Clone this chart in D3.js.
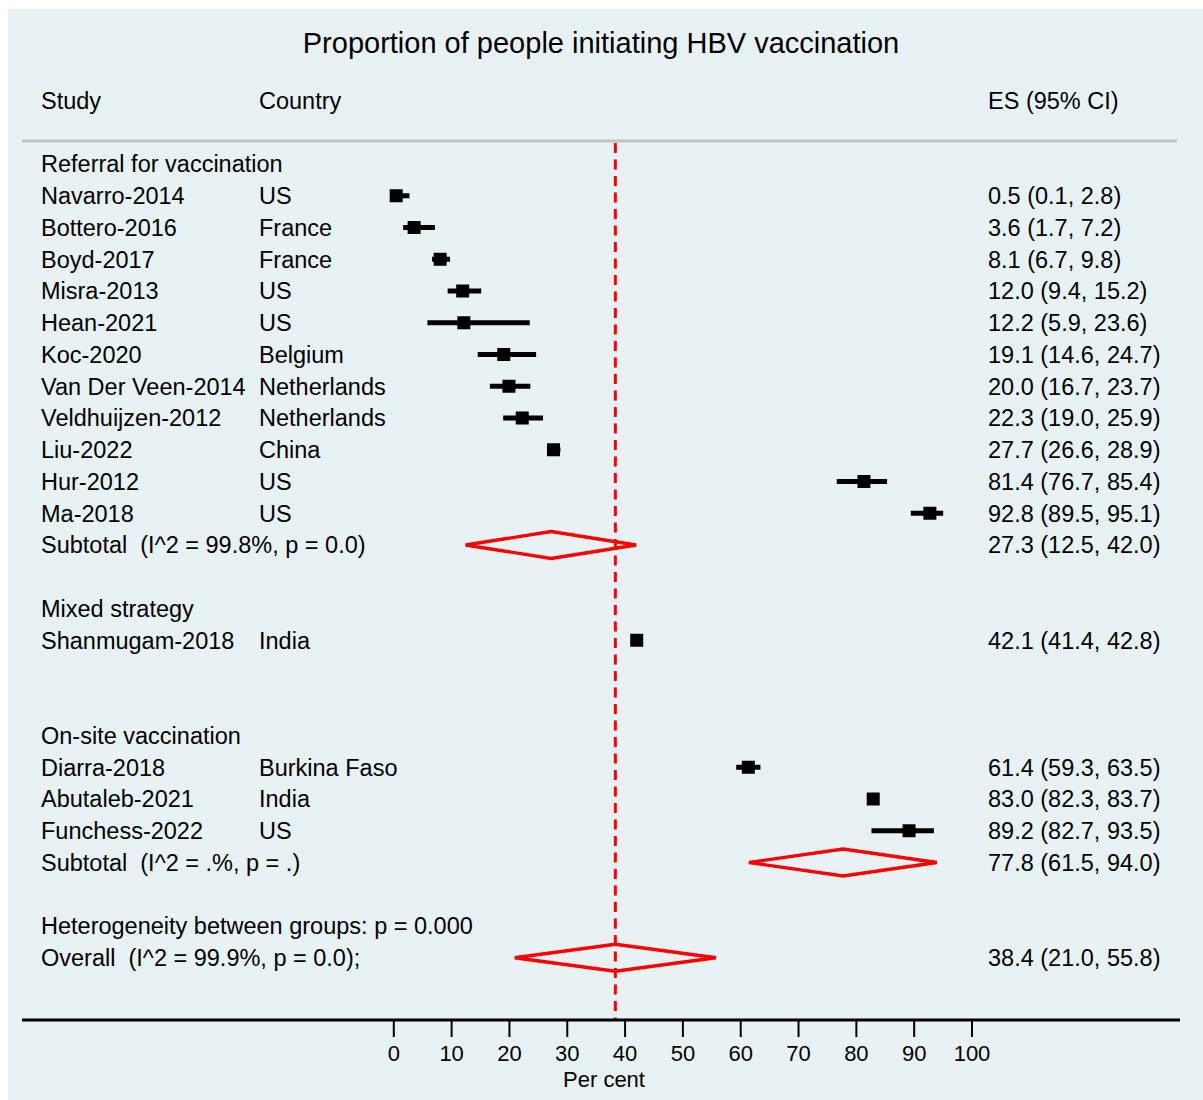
<!DOCTYPE html>
<html>
<head>
<meta charset="utf-8">
<script src="https://cdn.jsdelivr.net/npm/d3@7"></script>
<style>
  html, body { margin: 0; padding: 0; background: #ffffff; }
  svg text { font-family: "Liberation Sans", Arial, sans-serif; fill: #000; white-space: pre; }
</style>
</head>
<body>
<svg id="chart" width="1203" height="1100"></svg>
<script>
// ---- data ----
const chartTitle = "Proportion of people initiating HBV vaccination";
const groupNames = ["Referral for vaccination", "Mixed strategy", "On-site vaccination"];

const studies = [
  "Navarro-2014", "Bottero-2016", "Boyd-2017", "Misra-2013", "Hean-2021",
  "Koc-2020", "Van Der Veen-2014", "Veldhuijzen-2012", "Liu-2022", "Hur-2012", "Ma-2018",
  "Shanmugam-2018",
  "Diarra-2018", "Abutaleb-2021", "Funchess-2022"
];
const countries = [
  "US", "France", "France", "US", "US",
  "Belgium", "Netherlands", "Netherlands", "China", "US", "US",
  "India",
  "Burkina Faso", "India", "US"
];
const studyGroup = [0,0,0,0,0,0,0,0,0,0,0, 1, 2,2,2];
const es  = [0.5, 3.6, 8.1, 12.0, 12.2, 19.1, 20.0, 22.3, 27.7, 81.4, 92.8, 42.1, 61.4, 83.0, 89.2];
const lo  = [0.1, 1.7, 6.7,  9.4,  5.9, 14.6, 16.7, 19.0, 26.6, 76.7, 89.5, 41.4, 59.3, 82.3, 82.7];
const hi  = [2.8, 7.2, 9.8, 15.2, 23.6, 24.7, 23.7, 25.9, 28.9, 85.4, 95.1, 42.8, 63.5, 83.7, 93.5];

// pooled estimates per group (null = no subtotal shown)
const subtotalLabels = ["Subtotal  (I^2 = 99.8%, p = 0.0)", null, "Subtotal  (I^2 = .%, p = .)"];
const subtotalES = [27.3, null, 77.8];
const subtotalLo = [12.5, null, 61.5];
const subtotalHi = [42.0, null, 94.0];

const heterogeneityLabel = "Heterogeneity between groups: p = 0.000";
const overallLabel = "Overall  (I^2 = 99.9%, p = 0.0);";
const overallES = 38.4, overallLo = 21.0, overallHi = 55.8;

const xTicks = [0, 10, 20, 30, 40, 50, 60, 70, 80, 90, 100];
const xAxisLabel = "Per cent";

// ---- layout ----
const svg = d3.select("#chart");
const fmt = d3.format(".1f");
const esText = (e, l, h) => `${fmt(e)} (${fmt(l)}, ${fmt(h)})`;

// build the row list: group header, studies, subtotal row, spacer
const rows = [];
groupNames.forEach((g, gi) => {
  rows.push({ type: "group", label: g });
  studies.forEach((s, i) => {
    if (studyGroup[i] === gi) rows.push({ type: "study", i });
  });
  rows.push({ type: "subtotal", gi });
  rows.push({ type: "blank" });
});
rows.push({ type: "het" });
rows.push({ type: "overall" });

const x = d3.scaleLinear().domain([0, 100]).range([393.3, 971.5]);
const y = d3.scaleLinear().domain([0, rows.length - 1]).range([164, 957.75]);

const colStudy = 41, colCountry = 259, colES = 988;
const fs = 23.5;
const baseOff = fs * 0.36;

// panel background
svg.append("rect").attr("x", 8).attr("y", 9).attr("width", 1195).attr("height", 1091)
  .attr("fill", "#e8f1f4");

// title and column headings
svg.append("text").attr("x", 601).attr("y", 53).attr("text-anchor", "middle")
  .style("font-size", "29px").text(chartTitle);
const headY = 101 + baseOff;
svg.append("text").attr("x", colStudy).attr("y", headY).style("font-size", fs + "px").text("Study");
svg.append("text").attr("x", colCountry).attr("y", headY).style("font-size", fs + "px").text("Country");
svg.append("text").attr("x", colES).attr("y", headY).style("font-size", fs + "px").text("ES (95% CI)");

svg.append("line").attr("x1", 22).attr("x2", 1177).attr("y1", 141).attr("y2", 141)
  .attr("stroke", "#c3c3c3").attr("stroke-width", 3);

const gText = svg.append("g").style("font-size", fs + "px");
const gMarks = svg.append("g");

const diamond = (e, l, h, cy) => {
  const hh = 13.5;
  gMarks.append("path")
    .attr("d", `M${x(l)},${cy} L${x(e)},${cy - hh} L${x(h)},${cy} L${x(e)},${cy + hh} Z`)
    .attr("fill", "none").attr("stroke", "#ff0000").attr("stroke-width", 3.3)
    .attr("stroke-linejoin", "miter");
};

rows.forEach((r, ri) => {
  const cy = y(ri);
  const ty = cy + baseOff;
  if (r.type === "group") {
    gText.append("text").attr("x", colStudy).attr("y", ty).text(r.label);
  } else if (r.type === "study") {
    const i = r.i;
    gText.append("text").attr("x", colStudy).attr("y", ty).text(studies[i]);
    gText.append("text").attr("x", colCountry).attr("y", ty).text(countries[i]);
    gText.append("text").attr("x", colES).attr("y", ty).text(esText(es[i], lo[i], hi[i]));
    gMarks.append("line").attr("x1", x(lo[i])).attr("x2", x(hi[i]))
      .attr("y1", cy).attr("y2", cy).attr("stroke", "#000").attr("stroke-width", 5);
    const sz = 13;
    gMarks.append("rect").attr("x", x(es[i]) - sz / 2).attr("y", cy - sz / 2)
      .attr("width", sz).attr("height", sz).attr("fill", "#000");
  } else if (r.type === "subtotal" && subtotalLabels[r.gi]) {
    const gi = r.gi;
    gText.append("text").attr("x", colStudy).attr("y", ty).text(subtotalLabels[gi]);
    gText.append("text").attr("x", colES).attr("y", ty)
      .text(esText(subtotalES[gi], subtotalLo[gi], subtotalHi[gi]));
    diamond(subtotalES[gi], subtotalLo[gi], subtotalHi[gi], cy);
  } else if (r.type === "het") {
    gText.append("text").attr("x", colStudy).attr("y", ty).text(heterogeneityLabel);
  } else if (r.type === "overall") {
    gText.append("text").attr("x", colStudy).attr("y", ty).text(overallLabel);
    gText.append("text").attr("x", colES).attr("y", ty).text(esText(overallES, overallLo, overallHi));
    diamond(overallES, overallLo, overallHi, cy);
  }
});

// overall effect reference line
const axisY = 1020;
svg.append("line").attr("x1", x(overallES)).attr("x2", x(overallES))
  .attr("y1", 143).attr("y2", axisY)
  .attr("stroke", "#ff0000").attr("stroke-width", 3).attr("stroke-dasharray", "10,6.5");

// x axis
const axisG = svg.append("g").attr("transform", `translate(0,${axisY})`);
axisG.call(d3.axisBottom(x).tickValues(xTicks).tickSize(17).tickPadding(8).tickFormat(d3.format("d")));
axisG.select(".domain").remove();
axisG.selectAll(".tick line").attr("stroke", "#000").attr("stroke-width", 2);
axisG.selectAll(".tick text")
  .style("font-family", "'Liberation Sans Narrow', 'Liberation Sans', Arial, sans-serif")
  .style("font-size", "22px").attr("fill", "#000");
svg.append("line").attr("x1", 22).attr("x2", 1180).attr("y1", axisY).attr("y2", axisY)
  .attr("stroke", "#000").attr("stroke-width", 3);
svg.append("text").attr("x", 604).attr("y", 1087).attr("text-anchor", "middle")
  .style("font-family", "'Liberation Sans Narrow', 'Liberation Sans', Arial, sans-serif")
  .style("font-size", "22px").text(xAxisLabel);
</script>
</body>
</html>
